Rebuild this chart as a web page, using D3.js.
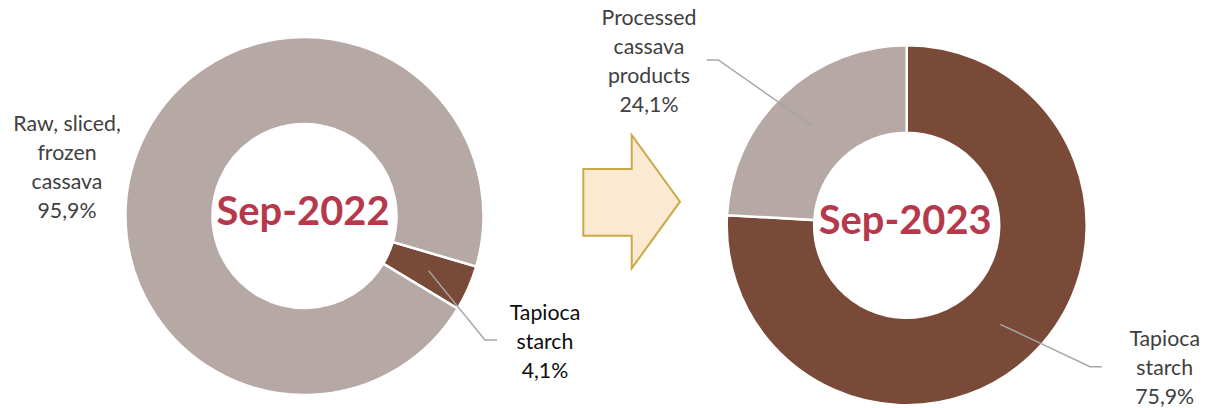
<!DOCTYPE html>
<html>
<head>
<meta charset="utf-8">
<script src="https://cdn.jsdelivr.net/npm/d3@7/dist/d3.min.js"></script>
<style>
  html, body { margin: 0; padding: 0; background: #fff; }
  svg { display: block; }
</style>
</head>
<body>
<svg id="chart" width="1207" height="408"></svg>
<script>
// ---- data ----
const periods = ["Sep-2022", "Sep-2023"];
const categories2022 = ["Tapioca starch", "Raw, sliced, frozen cassava"];
const values2022 = [4.1, 95.9];
const categories2023 = ["Tapioca starch", "Processed cassava products"];
const values2023 = [75.9, 24.1];

// ---- styles / layout ----
const colorMap = {
  "Tapioca starch": "#7A4A38",
  "Raw, sliced, frozen cassava": "#B5A8A5",
  "Processed cassava products": "#B5A8A5"
};
const FONT = "Lato, 'Open Sans', sans-serif";
const svg = d3.select("#chart");
const fmt = v => d3.format(".1f")(v).replace(".", ",") + "%";

const charts = [
  {
    period: periods[0], cats: categories2022, vals: values2022,
    cx: 304.5, cy: 216, rOuter: 179, rInner: 92,
    startDeg: 106.4, titleY: 225,
    labels: {
      "Raw, sliced, frozen cassava": { lines: ["Raw, sliced,", "frozen", "cassava"], x: 67, y: 131, color: "#404040", leader: null },
      "Tapioca starch": { lines: ["Tapioca", "starch"], x: 545, y: 320, color: "#0D0D0D", leader: [[485, 340], [497, 340]] }
    }
  },
  {
    period: periods[1], cats: categories2023, vals: values2023,
    cx: 906.7, cy: 225.3, rOuter: 180, rInner: 92.5,
    startDeg: 0, titleY: 234,
    labels: {
      "Processed cassava products": { lines: ["Processed", "cassava", "products"], x: 649, y: 25, color: "#404040", leader: [[718.3, 60], [706.7, 60]] },
      "Tapioca starch": { lines: ["Tapioca", "starch"], x: 1164.7, y: 346, color: "#404040", leader: [[1090, 366.7], [1101.7, 366.7]] }
    }
  }
];

charts.forEach(c => {
  const g = svg.append("g").attr("transform", `translate(${c.cx},${c.cy})`);
  const pie = d3.pie().sort(null).value(d => d.v)
    .startAngle(c.startDeg * Math.PI / 180)
    .endAngle(c.startDeg * Math.PI / 180 + 2 * Math.PI);
  const data = c.cats.map((k, i) => ({ k, v: c.vals[i] }));
  const arcs = pie(data);
  const arc = d3.arc().innerRadius(c.rInner).outerRadius(c.rOuter);

  g.selectAll("path.slice").data(arcs).join("path")
    .attr("class", "slice")
    .attr("d", arc)
    .attr("fill", d => colorMap[d.data.k])
    .attr("stroke", "#fff")
    .attr("stroke-width", 2.5)
    .attr("stroke-linejoin", "miter");

  // leader lines from slice centroid
  arcs.forEach(a => {
    const L = c.labels[a.data.k];
    if (!L.leader) return;
    const mid = arc.centroid(a);
    const pts = [[c.cx + mid[0], c.cy + mid[1]], ...L.leader];
    svg.append("path")
      .attr("d", d3.line()(pts))
      .attr("fill", "none")
      .attr("stroke", "#A6A6A6")
      .attr("stroke-width", 1.5);
  });

  // labels
  arcs.forEach(a => {
    const L = c.labels[a.data.k];
    const lines = [...L.lines, fmt(a.data.v)];
    const t = svg.append("text")
      .attr("text-anchor", "middle")
      .attr("font-family", FONT)
      .attr("font-size", 21.3)
      .attr("fill", L.color);
    lines.forEach((ln, i) => {
      t.append("tspan").attr("x", L.x).attr("y", L.y + i * 29).text(ln);
    });
  });

  // center title
  svg.append("text")
    .attr("x", c.cx - 1.5)
    .attr("y", c.titleY)
    .attr("text-anchor", "middle")
    .attr("font-family", FONT)
    .attr("font-weight", "bold")
    .attr("font-size", 39.5)
    .attr("fill", "#B5394B")
    .attr("textLength", 173)
    .attr("lengthAdjust", "spacingAndGlyphs")
    .text(c.period);
});

// arrow between the two donuts
const arrowPts = [[583.3, 169], [631.7, 169], [631.7, 135], [680, 201.7], [631.7, 268.3], [631.7, 235.7], [583.3, 235.7]];
svg.append("path")
  .attr("d", d3.line()(arrowPts) + "Z")
  .attr("fill", "#FBE9D1")
  .attr("stroke", "#C9AA45")
  .attr("stroke-width", 2)
  .attr("stroke-linejoin", "miter");
</script>
</body>
</html>
